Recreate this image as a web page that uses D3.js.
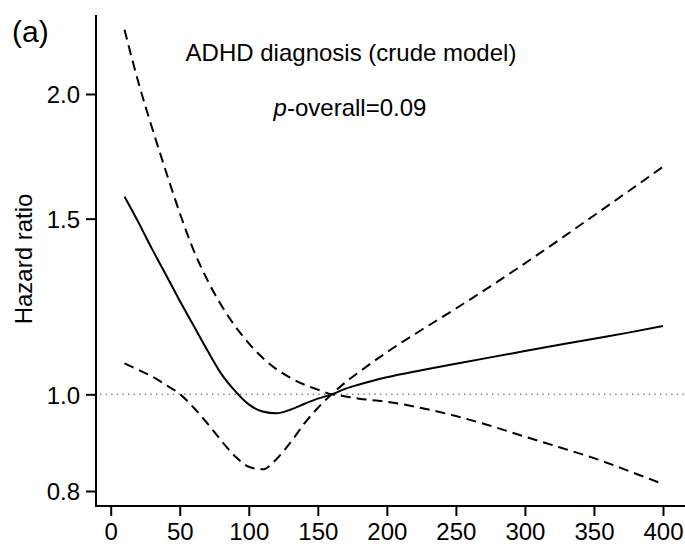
<!DOCTYPE html>
<html>
<head>
<meta charset="utf-8">
<script src="https://cdn.jsdelivr.net/npm/d3@7"></script>
<style>
  body { margin: 0; background: #fff; }
  svg { display: block; }
  text { font-family: "Liberation Sans", Arial, sans-serif; fill: #000; }
</style>
</head>
<body>
<svg id="chart" width="685" height="546"></svg>
<script>
// ---- data ----
const exposure = [10, 20, 30, 40, 50, 60, 70, 80, 90, 100, 110, 120, 130, 140, 150, 160, 170, 180, 200, 225, 250, 275, 300, 325, 350, 375, 400];
const hazardRatio = [1.578, 1.488, 1.398, 1.318, 1.241, 1.172, 1.107, 1.049, 1.008, 0.977, 0.961, 0.957, 0.965, 0.978, 0.990, 1.000, 1.013, 1.023, 1.040, 1.057, 1.073, 1.089, 1.105, 1.121, 1.137, 1.153, 1.171];
// confidence band drawn as two crossing dashed curves (they meet at the reference value)
const ciBandA = [2.320, 2.056, 1.849, 1.673, 1.520, 1.395, 1.302, 1.229, 1.171, 1.125, 1.088, 1.060, 1.039, 1.023, 1.011, 1.000, 0.995, 0.990, 0.983, 0.969, 0.951, 0.930, 0.907, 0.885, 0.863, 0.838, 0.813];
const ciBandB = [1.074, 1.058, 1.042, 1.022, 1.001, 0.970, 0.935, 0.899, 0.867, 0.846, 0.841, 0.861, 0.894, 0.934, 0.969, 1.000, 1.028, 1.053, 1.102, 1.160, 1.219, 1.283, 1.353, 1.429, 1.511, 1.598, 1.691];
const xTicks = [0, 50, 100, 150, 200, 250, 300, 350, 400];
const yTicks = [0.8, 1.0, 1.5, 2.0];
const referenceHR = 1.0;
const panelLabel = "(a)";
const yLabel = "Hazard ratio";
const titleText = "ADHD diagnosis (crude model)";
const pValueText = "=0.09";

// ---- layout ----
const svg = d3.select("#chart");
const x = d3.scaleLinear().domain([0, 400]).range([110.7, 663]);
const y = d3.scaleLog().domain([0.8, 2.0]).range([491, 94]);
const axisX = 96, axisTop = 15, axisBottom = 506, axisRight = 685;

// reference line
svg.append("line")
  .attr("x1", axisX + 4).attr("x2", axisRight)
  .attr("y1", y(referenceHR)).attr("y2", y(referenceHR))
  .attr("stroke", "#808080").attr("stroke-width", 1.5)
  .attr("stroke-dasharray", "1.4 4.2");

// axes
const yAxis = d3.axisLeft(y).tickValues(yTicks).tickFormat(d3.format(".1f"))
  .tickSize(10).tickPadding(6);
const gy = svg.append("g").attr("transform", `translate(${axisX},0)`).call(yAxis);
gy.select(".domain").remove();
gy.selectAll(".tick line").attr("stroke", "#000").attr("stroke-width", 2);
gy.selectAll(".tick text").attr("font-size", 24).attr("dy", "0.37em")
  .style("font-family", '"Liberation Sans", Arial, sans-serif');

const xAxis = d3.axisBottom(x).tickValues(xTicks).tickFormat(d3.format("d"))
  .tickSize(10).tickPadding(7);
const gx = svg.append("g").attr("transform", `translate(0,${axisBottom})`).call(xAxis);
gx.select(".domain").remove();
gx.selectAll(".tick line").attr("stroke", "#000").attr("stroke-width", 2);
gx.selectAll(".tick text").attr("font-size", 24)
  .style("font-family", '"Liberation Sans", Arial, sans-serif');

svg.append("path")
  .attr("d", `M${axisX},${axisTop}V${axisBottom}H${axisRight}`)
  .attr("fill", "none").attr("stroke", "#000").attr("stroke-width", 2);

// curves
const line = d3.line().x((d, i) => x(exposure[i])).y(d => y(d)).curve(d3.curveMonotoneX);
svg.append("path").attr("d", line(ciBandA))
  .attr("fill", "none").attr("stroke", "#000").attr("stroke-width", 2)
  .attr("stroke-dasharray", "10 6");
svg.append("path").attr("d", line(ciBandB))
  .attr("fill", "none").attr("stroke", "#000").attr("stroke-width", 2)
  .attr("stroke-dasharray", "10 6");
svg.append("path").attr("d", line(hazardRatio))
  .attr("fill", "none").attr("stroke", "#000").attr("stroke-width", 2);

// texts
svg.append("text").attr("x", 12).attr("y", 42).attr("font-size", 30).text(panelLabel);
svg.append("text")
  .attr("transform", `translate(31.5,259) rotate(-90)`)
  .attr("text-anchor", "middle").attr("font-size", 24).text(yLabel);
svg.append("text").attr("x", 351).attr("y", 61).attr("text-anchor", "middle")
  .attr("font-size", 24).text(titleText);
const pt = svg.append("text").attr("x", 350).attr("y", 116).attr("text-anchor", "middle")
  .attr("font-size", 24);
pt.append("tspan").attr("font-style", "italic").text("p");
pt.append("tspan").text("-overall" + pValueText);
</script>
</body>
</html>
